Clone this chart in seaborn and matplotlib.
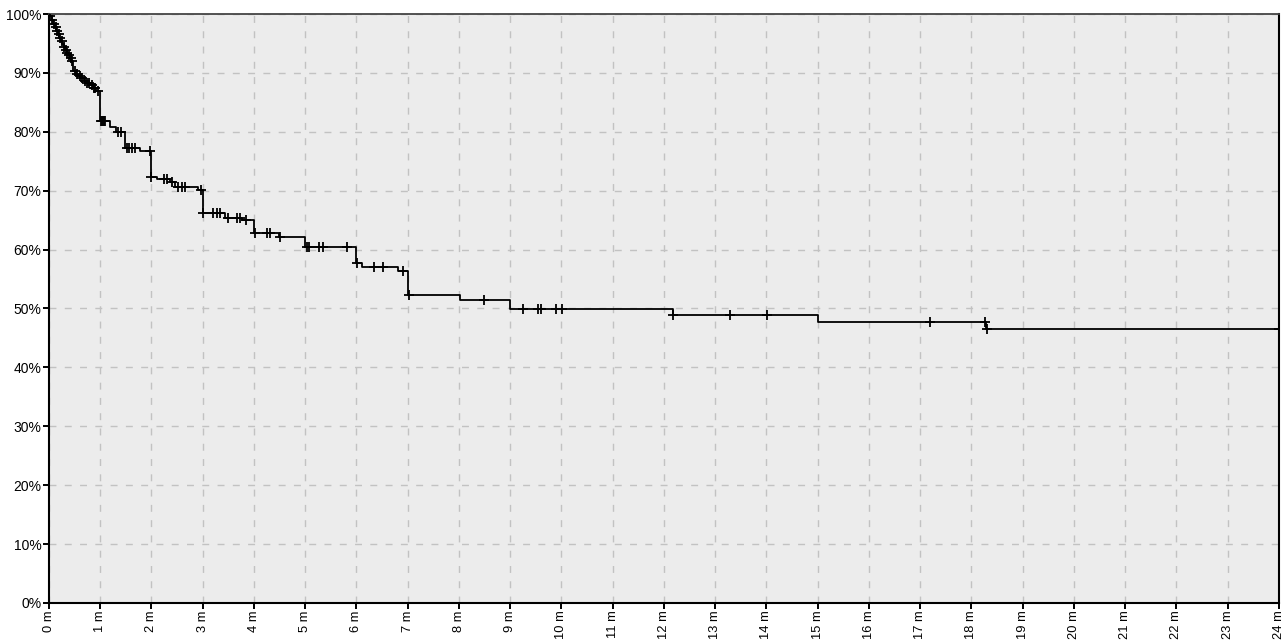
import numpy as np
import pandas as pd
import matplotlib
matplotlib.use("Agg")
import matplotlib.pyplot as plt
import seaborn as sns

# step curve: time (months) and survival (%) right after each drop
event_times = [0, 0.02, 0.05, 0.08, 0.11, 0.14, 0.17, 0.2, 0.23, 0.26, 0.29, 0.32,
               0.35, 0.38, 0.41, 0.44, 0.47, 0.52, 0.57, 0.62, 0.68, 0.74, 0.8, 0.86,
               0.92, 1.0, 1.19, 1.3, 1.48, 1.78, 2.0, 2.1, 2.36, 2.46, 2.91, 3.0,
               3.43, 3.76, 4.0, 4.49, 5.0, 6.0, 6.1, 6.82, 7.0, 8.02, 9.0, 12.18,
               15.0, 18.28, 24.0]
survival = [100, 99.6, 99.0, 98.4, 97.8, 97.2, 96.6, 96.0, 95.4, 94.9, 94.4, 93.9,
            93.4, 93.0, 92.6, 92.0, 90.3, 89.9, 89.5, 89.1, 88.7, 88.3, 87.9, 87.5,
            87.0, 81.8, 80.8, 80.0, 77.2, 76.8, 72.3, 72.0, 71.5, 70.7, 70.2, 66.3,
            65.4, 65.0, 62.8, 62.2, 60.4, 57.8, 57.0, 56.3, 52.3, 51.5, 49.9, 48.9,
            47.7, 46.5, 46.5]

# censored observations (months)
censor_times = [0.03, 0.06, 0.1, 0.13, 0.16, 0.19, 0.22, 0.25, 0.3, 0.33, 0.36, 0.4,
                0.43, 0.45, 0.5, 0.55, 0.6, 0.65, 0.7, 0.75, 0.78, 0.84, 0.88, 0.9,
                0.95, 1.02, 1.04, 1.06, 1.08, 1.1, 1.35, 1.4, 1.52, 1.57, 1.63, 1.68,
                1.97, 2.0, 2.24, 2.3, 2.4, 2.52, 2.59, 2.65, 2.96, 3.0, 3.2, 3.27,
                3.34, 3.5, 3.67, 3.73, 3.84, 4.02, 4.25, 4.31, 4.5, 5.03, 5.08, 5.27,
                5.34, 5.81, 6.02, 6.35, 6.51, 6.91, 7.02, 8.49, 9.25, 9.55, 9.61,
                9.89, 10.02, 12.18, 13.29, 14.02, 17.19, 18.26, 18.3, 24.0]

x_ticks = list(range(0, 25))
x_labels = [f"{m} m" for m in x_ticks]
y_ticks = list(range(0, 101, 10))
y_labels = [f"{v}%" for v in y_ticks]

curve = pd.DataFrame({"t": event_times, "s": survival})
idx = np.searchsorted(event_times, censor_times, side="right") - 1
censored = pd.DataFrame({"t": censor_times, "s": np.array(survival)[idx]})

sns.set_style("white")
plt.rcParams["font.family"] = ["Liberation Sans", "DejaVu Sans"]

fig = plt.figure(figsize=(12.88, 6.4), dpi=100)
ax = fig.add_axes([0.038, 0.058, 0.955, 0.920])
ax.set_facecolor("#ececec")

sns.lineplot(data=curve, x="t", y="s", drawstyle="steps-post", estimator=None,
             color="black", linewidth=1.3, ax=ax)
sns.scatterplot(data=censored, x="t", y="s", marker="+", s=60, color="black",
                linewidth=1.3, ax=ax, zorder=3)

ax.set_xlim(0, 24)
ax.set_ylim(0, 100)
ax.set_xticks(x_ticks)
ax.set_xticklabels(x_labels, rotation=90, fontsize=9.3, color="black")
ax.set_yticks(y_ticks)
ax.set_yticklabels(y_labels, fontsize=10, color="black")
ax.set_xlabel("")
ax.set_ylabel("")

ax.grid(True, color="#c2c2c2", linestyle=(0, (5, 6)), linewidth=1.0)
ax.set_axisbelow(True)
ax.tick_params(axis="both", direction="out", length=4, width=1.4, color="black",
               bottom=True, left=True, pad=1.5)
for side in ["left", "bottom", "right"]:
    ax.spines[side].set_color("black")
    ax.spines[side].set_linewidth(1.5)
ax.spines["top"].set_color("#444444")
ax.spines["top"].set_linewidth(1.3)

fig.savefig("out.png", dpi=100, facecolor="white")
